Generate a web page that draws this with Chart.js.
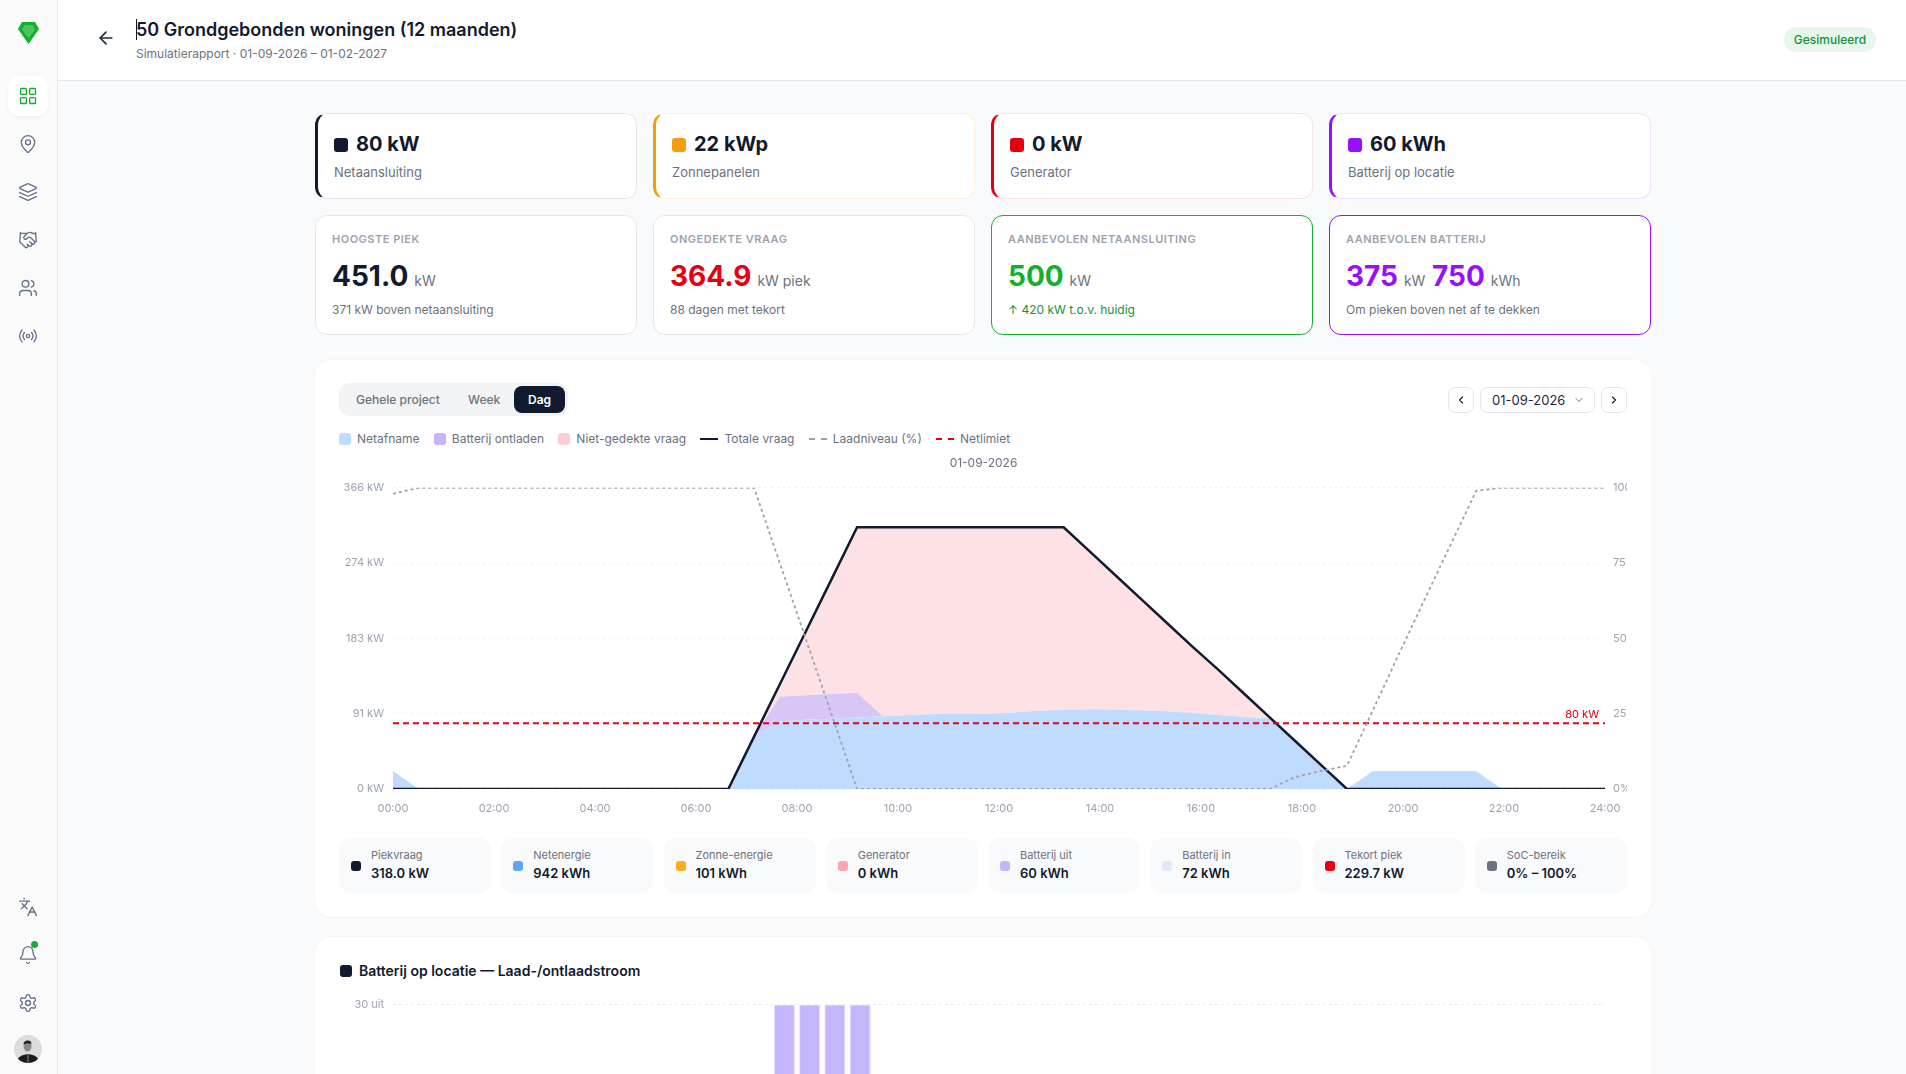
<!DOCTYPE html>
<html lang="nl">
<head>
<meta charset="utf-8">
<title>Simulatierapport</title>
<script src="https://cdn.jsdelivr.net/npm/chart.js@4"></script>
<style>
  * { box-sizing: border-box; margin: 0; padding: 0; }
  html, body { width: 1906px; height: 1074px; overflow: hidden; background: #f9fafb; font-family: Inter, "Noto Sans", sans-serif; color: #111a2e; }
  .abs, .abs > * { position: absolute; }
  #side { left: 0; top: 0; width: 58px; height: 1074px; background: #fafafa; border-right: 1px solid #e5e7eb; }
  #side svg.ic { left: 18px; width: 20px; height: 20px; fill: none; stroke: #64708a; stroke-width: 1.6; stroke-linecap: round; stroke-linejoin: round; }
  #tile { left: 8px; top: 76px; width: 40px; height: 40px; background: #fff; border-radius: 10px; box-shadow: 0 1px 3px rgba(17,26,46,.06); }
  #head { left: 58px; top: 0; width: 1848px; height: 81px; background: #fff; border-bottom: 1px solid #e5e7eb; }
  .t { position: absolute; white-space: nowrap; line-height: 1; }
  .card { position: absolute; width: 322px; background: #fff; border: 1px solid #e5e7eb; border-radius: 12px; }
  .top { top: 113px; height: 86px; }
  .kpi { top: 215px; height: 120px; }
  .sq { position: absolute; width: 14px; height: 14px; border-radius: 3px; left: 16px; top: 24px; }
  .big { left: 38px; top: 20px; font-size: 20px; font-weight: 700; line-height: 20px; }
  .sub { left: 16px; top: 52px; font-size: 13px; color: #6b7280; line-height: 13px; }
  .cap { left: 16px; top: 18px; font-size: 11px; font-weight: 600; letter-spacing: .5px; color: #9ca3af; line-height: 11px; }
  .val { left: 16px; top: 46px; font-size: 28px; font-weight: 700; line-height: 28px; }
  .val small { font-size: 14px; font-weight: 400; color: #6b7280; margin-left: 2px; }
  .note { left: 16px; top: 88px; font-size: 12px; color: #6b7280; line-height: 12px; }
  .panel { position: absolute; left: 315px; width: 1336px; background: #fff; border-radius: 16px; box-shadow: 0 0 0 1px #f5f6f8; }
  .btn { position: absolute; top: 387px; height: 26px; background: #fff; border: 1px solid #e5e7eb; border-radius: 7px; }
  .btn svg { position: absolute; top: 6px; width: 12px; height: 12px; fill: none; stroke-linecap: round; stroke-linejoin: round; }
  #legend { position: absolute; left: 339px; top: 432px; height: 14px; display: flex; gap: 14.3px; font-size: 12px; line-height: 14px; color: #6b7280; white-space: nowrap; }
  #legend span.item { display: flex; align-items: center; gap: 6px; }
  #legend i { display: block; width: 12px; height: 12px; border-radius: 3px; }
  #legend i.ln { width: 18px; height: 0; border-radius: 0; border-top: 2px solid; }
  .chip { position: absolute; top: 838px; width: 152px; height: 55px; background: #f9fafb; border-radius: 12px; }
  .chip i { position: absolute; left: 12px; top: 23px; width: 10px; height: 10px; border-radius: 3px; }
  .chip b { position: absolute; left: 32px; top: 12px; font-size: 11px; font-weight: 400; color: #6b7280; line-height: 11px; white-space: nowrap; }
  .chip em { position: absolute; left: 32px; top: 29px; font-size: 13px; font-style: normal; font-weight: 600; line-height: 13px; white-space: nowrap; }
  canvas { position: absolute; display: block; }
</style>
</head>
<body>
<div id="side" class="abs">
  <svg viewBox="0 0 21 22" style="left:18px;top:22px;width:21px;height:22px"><path d="M4 0h13l4 7-10.500 15L0 7z" fill="#12b02c"/><path d="M6.500 3h8l2.500 4.500-6.500 9-6.500-9z" fill="#4cc45f"/></svg>
  <div id="tile"></div>
  <svg class="ic" viewBox="0 0 24 24" style="top:86px;stroke:#12b02c"><rect x="3" y="3" width="7" height="7" rx="1"/><rect x="14" y="3" width="7" height="7" rx="1"/><rect x="14" y="14" width="7" height="7" rx="1"/><rect x="3" y="14" width="7" height="7" rx="1"/></svg>
  <svg class="ic" viewBox="0 0 24 24" style="top:134px"><path d="M20 10c0 4.993-5.539 10.193-7.399 11.799a1 1 0 0 1-1.202 0C9.539 20.193 4 14.993 4 10a8 8 0 0 1 16 0"/><circle cx="12" cy="10" r="3"/></svg>
  <svg class="ic" viewBox="0 0 24 24" style="top:182px"><path d="m12.830 2.180a2 2 0 0 0-1.660 0L2.600 6.080a1 1 0 0 0 0 1.830l8.580 3.910a2 2 0 0 0 1.660 0l8.580-3.900a1 1 0 0 0 0-1.830Z"/><path d="m22 17.650-9.170 4.160a2 2 0 0 1-1.660 0L2 17.650"/><path d="m22 12.650-9.170 4.160a2 2 0 0 1-1.660 0L2 12.650"/></svg>
  <svg class="ic" viewBox="0 0 24 24" style="top:230px"><path d="m11 17 2 2a1 1 0 1 0 3-3"/><path d="m14 14 2.500 2.500a1 1 0 1 0 3-3l-3.880-3.880a3 3 0 0 0-4.240 0l-.88.88a1 1 0 1 1-3-3l2.810-2.810a5.790 5.790 0 0 1 7.060-.87l.47.28a2 2 0 0 0 1.420.25L21 4"/><path d="m21 3 1 11h-2"/><path d="M3 3 2 14l6.500 6.500a1 1 0 1 0 3-3"/><path d="M3 4h8"/></svg>
  <svg class="ic" viewBox="0 0 24 24" style="top:278px"><path d="M16 21v-2a4 4 0 0 0-4-4H6a4 4 0 0 0-4 4v2"/><circle cx="9" cy="7" r="4"/><path d="M22 21v-2a4 4 0 0 0-3-3.870"/><path d="M16 3.130a4 4 0 0 1 0 7.750"/></svg>
  <svg class="ic" viewBox="0 0 24 24" style="top:326px"><path d="M4.900 19.100C1 15.200 1 8.800 4.900 4.900"/><path d="M7.800 16.200c-2.300-2.300-2.300-6.100 0-8.500"/><circle cx="12" cy="12" r="2"/><path d="M16.200 7.800c2.300 2.300 2.300 6.100 0 8.500"/><path d="M19.100 4.900C23 8.800 23 15.100 19.100 19"/></svg>
  <svg class="ic" viewBox="0 0 24 24" style="top:897px"><path d="m5 8 6 6"/><path d="m4 14 6-6 2-3"/><path d="M2 5h12"/><path d="M7 2h1"/><path d="m22 22-5-10-5 10"/><path d="M14 18h6"/></svg>
  <svg class="ic" viewBox="0 0 24 24" style="top:945px"><path d="M10.268 21a2 2 0 0 0 3.464 0"/><path d="M3.262 15.326A1 1 0 0 0 4 17h16a1 1 0 0 0 .74-1.673C19.410 13.956 18 12.499 18 8A6 6 0 0 0 6 8c0 4.499-1.411 5.956-2.738 7.326"/></svg>
  <div style="left:31px;top:941px;width:7px;height:7px;border-radius:50%;background:#12b02c"></div>
  <svg class="ic" viewBox="0 0 24 24" style="top:993px"><path d="M12.220 2h-.44a2 2 0 0 0-2 2v.18a2 2 0 0 1-1 1.730l-.43.25a2 2 0 0 1-2 0l-.15-.08a2 2 0 0 0-2.730.73l-.22.38a2 2 0 0 0 .73 2.730l.15.1a2 2 0 0 1 1 1.720v.51a2 2 0 0 1-1 1.740l-.15.09a2 2 0 0 0-.73 2.730l.22.38a2 2 0 0 0 2.730.73l.15-.08a2 2 0 0 1 2 0l.43.25a2 2 0 0 1 1 1.730V20a2 2 0 0 0 2 2h.44a2 2 0 0 0 2-2v-.18a2 2 0 0 1 1-1.730l.43-.25a2 2 0 0 1 2 0l.15.08a2 2 0 0 0 2.730-.73l.22-.39a2 2 0 0 0-.73-2.730l-.15-.08a2 2 0 0 1-1-1.740v-.5a2 2 0 0 1 1-1.740l.15-.09a2 2 0 0 0 .73-2.730l-.22-.38a2 2 0 0 0-2.730-.73l-.15.08a2 2 0 0 1-2 0l-.43-.25a2 2 0 0 1-1-1.730V4a2 2 0 0 0-2-2z"/><circle cx="12" cy="12" r="3"/></svg>
  <svg viewBox="0 0 28 28" style="left:14px;top:1035px;width:28px;height:28px"><defs><clipPath id="av"><circle cx="14" cy="14" r="14"/></clipPath></defs><g clip-path="url(#av)"><rect width="28" height="28" fill="#dcdcdc"/><path d="M3 28c0-6 4-8 11-9 7 1 11 3 11 9z" fill="#1c1c1c"/><rect x="13" y="19" width="2" height="9" fill="#555"/><ellipse cx="13.500" cy="11" rx="4" ry="5.500" fill="#8a8a8a"/><path d="M9.500 9c0-4 7-5 8-1l-1 1c-2-1-4-1-5 0z" fill="#222"/></g></svg>
</div>

<div id="head" class="abs"></div>
<svg viewBox="0 0 24 24" style="position:absolute;left:96px;top:28px;width:20px;height:20px;fill:none;stroke:#1f2937;stroke-width:2;stroke-linecap:round;stroke-linejoin:round"><path d="m12 19-7-7 7-7"/><path d="M19 12H5"/></svg>
<div class="t" style="left:136px;top:19px;width:1px;height:21px;background:#111a2e"></div>
<div class="t" style="left:136px;top:20px;font-size:18px;font-weight:600;line-height:20px">50 Grondgebonden woningen (12 maanden)</div>
<div class="t" style="left:136px;top:48px;font-size:12px;color:#6b7280;line-height:12px">Simulatierapport · 01-09-2026 – 01-02-2027</div>
<div class="t" style="left:1784px;top:27px;width:92px;height:25px;background:#e8f7ec;border-radius:13px;text-align:center;font-size:12px;font-weight:500;color:#15923a;line-height:25px">Gesimuleerd</div>

<div class="card top" style="left:315px;border-left:3px solid #111a2e"><div class="sq" style="background:#111a2e"></div><div class="t big">80 kW</div><div class="t sub">Netaansluiting</div></div>
<div class="card top" style="left:653px;border-color:#fef1da;border-left:3px solid #f59e0b"><div class="sq" style="background:#f59e0b"></div><div class="t big">22 kWp</div><div class="t sub">Zonnepanelen</div></div>
<div class="card top" style="left:991px;border-color:#fde3e3;border-left:3px solid #e6000f"><div class="sq" style="background:#e6000f"></div><div class="t big">0 kW</div><div class="t sub">Generator</div></div>
<div class="card top" style="left:1329px;border-color:#f0e2ff;border-left:3px solid #9810fa"><div class="sq" style="background:#9810fa"></div><div class="t big">60 kWh</div><div class="t sub">Batterij op locatie</div></div>

<div class="card kpi" style="left:315px"><div class="t cap">HOOGSTE PIEK</div><div class="t val">451.0<small> kW</small></div><div class="t note">371 kW boven netaansluiting</div></div>
<div class="card kpi" style="left:653px"><div class="t cap">ONGEDEKTE VRAAG</div><div class="t val" style="color:#e6000f">364.9<small> kW piek</small></div><div class="t note">88 dagen met tekort</div></div>
<div class="card kpi" style="left:991px;border-color:#12b02c"><div class="t cap">AANBEVOLEN NETAANSLUITING</div><div class="t val" style="color:#12b02c">500<small> kW</small></div><div class="t note" style="color:#15923a">↑ 420 kW t.o.v. huidig</div></div>
<div class="card kpi" style="left:1329px;border-color:#9810fa"><div class="t cap">AANBEVOLEN BATTERIJ</div><div class="t val" style="color:#9810fa">375<small> kW</small> 750<small> kWh</small></div><div class="t note">Om pieken boven net af te dekken</div></div>

<div class="panel" style="top:360px;height:557px"></div>
<div class="t" style="left:339px;top:383px;width:229px;height:33px;background:#f3f4f6;border-radius:10px"></div>
<div class="t" style="left:514px;top:386px;width:51px;height:27px;background:#111a2e;border-radius:8px"></div>
<div class="t" style="left:356px;top:393px;font-size:12px;font-weight:500;color:#6b7280;line-height:13px">Gehele project</div>
<div class="t" style="left:468px;top:393px;font-size:12px;font-weight:500;color:#6b7280;line-height:13px">Week</div>
<div class="t" style="left:528px;top:393px;font-size:12px;font-weight:600;color:#fff;line-height:13px">Dag</div>

<div class="btn" style="left:1448px;width:26px"><svg viewBox="0 0 24 24" style="left:6px;stroke:#1f2937;stroke-width:2.500"><path d="m15 18-6-6 6-6"/></svg></div>
<div class="btn" style="left:1480px;width:115px"><div class="t" style="left:11px;top:6px;font-size:13px;line-height:13px;color:#1f2937">01-09-2026</div><svg viewBox="0 0 24 24" style="left:92px;stroke:#6b7280;stroke-width:2"><path d="m6 9 6 6 6-6"/></svg></div>
<div class="btn" style="left:1601px;width:26px"><svg viewBox="0 0 24 24" style="left:6px;stroke:#1f2937;stroke-width:2.500"><path d="m9 18 6-6-6-6"/></svg></div>

<div id="legend"></div>
<canvas id="energyChart" width="1287" height="368" style="left:340px;top:452px;width:1287px;height:368px"></canvas>
<div id="chips"></div>

<div class="panel" style="top:937px;height:400px"></div>
<div class="t" style="left:339.500px;top:965px;width:12px;height:12px;background:#111a2e;border-radius:3px"></div>
<div class="t" style="left:359px;top:964px;font-size:14px;font-weight:600;line-height:14px">Batterij op locatie — Laad-/ontlaadstroom</div>
<canvas id="flowChart" width="1287" height="266" style="left:340px;top:989px;width:1287px;height:266px"></canvas>

<script>
// half hour samples, axis runs a little short so they land at 0.51h steps
const hours = [0, 0.51, 1.02, 1.53, 2.04, 2.55, 3.06, 3.57, 4.09, 4.6, 5.11, 5.62, 6.13, 6.64, 7.15, 7.66,
  8.17, 8.68, 9.19, 9.7, 10.21, 10.72, 11.23, 11.74, 12.26, 12.77, 13.28, 13.79, 14.3, 14.81, 15.32, 15.83,
  16.34, 16.85, 17.36, 17.87, 18.38, 18.89, 19.4, 19.91, 20.43, 20.94, 21.45, 21.96, 22.47, 22.98, 23.49, 24];
const gridPower = [22, 0, 0, 0, 0, 0, 0, 0, 0, 0, 0, 0, 0, 0, 64, 82,
  84, 85.5, 87, 88.5, 90, 91, 91.5, 91, 93, 95, 96, 96.8, 96.5, 95.5, 94.5, 92.5,
  90, 87.5, 86, 58, 29, 0, 21.6, 21.6, 21.6, 21.6, 21.6, 0, 0, 0, 0, 0];
const batteryPower = [0, 0, 0, 0, 0, 0, 0, 0, 0, 0, 0, 0, 0, 0, 0, 30,
  30, 30, 30, 0, 0, 0, 0, 0, 0, 0, 0, 0, 0, 0, 0, 0,
  0, 0, 0, 0, 0, 0, 0, 0, 0, 0, 0, 0, 0, 0, 0, 0];
const unmetDemand = [0, 0, 0, 0, 0, 0, 0, 0, 0, 0, 0, 0, 0, 0, 0, 15,
  77, 139, 201, 229.5, 228, 227, 226.5, 227, 225, 223, 222, 192, 163.5, 135.5, 107.5, 80.5,
  55, 28.5, 1, 0, 0, 0, 0, 0, 0, 0, 0, 0, 0, 0, 0, 0];
const totalDemand = [0, 0, 0, 0, 0, 0, 0, 0, 0, 0, 0, 0, 0, 0, 63.6, 127.2,
  190.8, 254.4, 318, 318, 318, 318, 318, 318, 318, 318, 318, 289, 260, 231, 202, 173,
  145, 116, 87, 58, 29, 0, 0, 0, 0, 0, 0, 0, 0, 0, 0, 0];
const socPercent = [98, 100, 100, 100, 100, 100, 100, 100, 100, 100, 100, 100, 100, 100, 100, 75,
  50, 25, 0, 0, 0, 0, 0, 0, 0, 0, 0, 0, 0, 0, 0, 0,
  0, 0, 0, 4, 6, 7.7, 26, 44.5, 63, 81, 99, 100, 100, 100, 100, 100];
const netLimit = 80;
const kwTicks = [0, 91.5, 183, 274.5, 366];
const socTicks = [0, 25, 50, 75, 100];
const flowTicks = [-30, 0, 30];
// discharge is positive, charge negative (charge part is below the fold)
const batteryFlow = [0, 0, 0, 0, 0, 0, 0, 0, 0, 0, 0, 0, 0, 0, 0, 30,
  30, 30, 30, 0, 0, 0, 0, 0, 0, 0, 0, 0, 0, 0, 0, 0,
  0, 0, 0, 0, 0, 0, -21.6, -21.6, -21.6, -21.6, -21.6, 0, 0, 0, 0, 0];
const flowLabels = ["00:00", "00:30", "01:00", "01:30", "02:00", "02:30", "03:00", "03:30", "04:00", "04:30", "05:00", "05:30",
  "06:00", "06:30", "07:00", "07:30", "08:00", "08:30", "09:00", "09:30", "10:00", "10:30", "11:00", "11:30",
  "12:00", "12:30", "13:00", "13:30", "14:00", "14:30", "15:00", "15:30", "16:00", "16:30", "17:00", "17:30",
  "18:00", "18:30", "19:00", "19:30", "20:00", "20:30", "21:00", "21:30", "22:00", "22:30", "23:00", "23:30"];

const chipNames = ["Piekvraag", "Netenergie", "Zonne-energie", "Generator", "Batterij uit", "Batterij in", "Tekort piek", "SoC-bereik"];
const chipValues = ["318.0 kW", "942 kWh", "101 kWh", "0 kWh", "60 kWh", "72 kWh", "229.7 kW", "0% – 100%"];
const chipColors = ["#111a2e", "#60a5fa", "#fbad1c", "#fda4af", "#c4b5fd", "#e0e7ff", "#e6000f", "#6b7280"];

const INK = "#111a2e";
const RED = "#e6000f";
const MUTED = "#9ca3af";
const tickFont = { family: "Inter", size: 11 };

Chart.defaults.font.family = "Inter";
Chart.defaults.animation = false;

function toPoints(values) {
  return hours.map((h, i) => ({ x: h, y: values[i] }));
}

var chips = document.getElementById("chips");
chipNames.forEach((name, i) => {
  var el = document.createElement("div");
  el.className = "chip";
  el.style.left = 339 + i * 162.25 + "px";
  el.innerHTML = `<i style="background:${chipColors[i]}"></i><b>${name}</b><em>${chipValues[i]}</em>`;
  chips.appendChild(el);
});

// prints the limit value just above the red line
const limitLabel = {
  id: "limitLabel",
  afterDatasetsDraw(chart) {
    var ctx = chart.ctx;
    ctx.save();
    ctx.font = "11px Inter";
    ctx.fillStyle = RED;
    ctx.textAlign = "right";
    ctx.textBaseline = "middle";
    ctx.fillText(netLimit + " kW", chart.chartArea.right - 6, chart.scales.y.getPixelForValue(netLimit) - 8.5);
    ctx.restore();
  },
};

var chart = new Chart(document.getElementById("energyChart"), {
  type: "line",
  data: {
    datasets: [
      { label: "Netafname", data: toPoints(gridPower), yAxisID: "y", stack: "supply", fill: "origin", backgroundColor: "#bfdbfe", borderWidth: 0, order: 3 },
      { label: "Batterij ontladen", data: toPoints(batteryPower), yAxisID: "y", stack: "supply", fill: "-1", backgroundColor: "#d8c6f6", borderWidth: 0, order: 3 },
      { label: "Niet-gedekte vraag", data: toPoints(unmetDemand), yAxisID: "y", stack: "supply", fill: "-1", backgroundColor: "#fee1e4", borderWidth: 0, order: 3 },
      { label: "Totale vraag", data: toPoints(totalDemand), yAxisID: "y", stack: "demand", borderColor: INK, borderWidth: 2.5, order: 1 },
      { label: "Laadniveau (%)", data: toPoints(socPercent), yAxisID: "y1", borderColor: MUTED, borderWidth: 1.8, borderDash: [3, 3], order: 0 },
      { label: "Netlimiet", data: [{ x: 0, y: netLimit }, { x: 24, y: netLimit }], yAxisID: "y", stack: "limit", borderColor: RED, borderWidth: 2, borderDash: [6, 4], order: 0 },
    ],
  },
  options: {
    responsive: false,
    maintainAspectRatio: false,
    layout: { autoPadding: false },
    elements: { point: { radius: 0 }, line: { tension: 0 } },
    plugins: {
      legend: { display: false },
      tooltip: { enabled: false },
      title: {
        display: true,
        text: "01-09-2026",
        color: "#6b7280",
        font: { family: "Inter", size: 12, weight: "400" },
        padding: { top: 4, bottom: 17.4 },
      },
    },
    scales: {
      x: {
        type: "linear",
        min: 0,
        max: 24,
        // tick padding also widens the plot margin, so the gap comes from tickLength
        grid: { display: false, drawTicks: true, tickLength: 10.5 },
        border: { display: false },
        afterFit: (scale) => { scale.height = 31; },
        ticks: {
          stepSize: 2,
          padding: 3,
          maxRotation: 0,
          color: MUTED,
          font: tickFont,
          callback: (v) => String(v).padStart(2, "0") + ":00",
        },
      },
      y: {
        stacked: true,
        min: 0,
        max: 366,
        border: { display: false, dash: [2, 4] },
        grid: { color: "#eceef1", drawTicks: false },
        afterFit: (scale) => { scale.width = 53; },
        afterBuildTicks: (scale) => { scale.ticks = kwTicks.map((v) => ({ value: v })); },
        ticks: {
          padding: 9,
          color: MUTED,
          font: tickFont,
          callback: (v) => Math.floor(v) + " kW",
        },
      },
      y1: {
        position: "right",
        min: 0,
        max: 100,
        border: { display: false },
        grid: { display: false, drawTicks: false },
        afterFit: (scale) => { scale.width = 22; },
        afterBuildTicks: (scale) => { scale.ticks = socTicks.map((v) => ({ value: v })); },
        ticks: {
          padding: 8,
          color: MUTED,
          font: tickFont,
          callback: (v) => v + "%",
        },
      },
    },
  },
  plugins: [limitLabel],
});

// legend sits outside the canvas, above the date title
var legend = document.getElementById("legend");
chart.data.datasets.forEach((ds) => {
  var item = document.createElement("span");
  item.className = "item";
  var mark = document.createElement("i");
  if (ds.fill) {
    mark.style.background = { Netafname: "#bfdbfe", "Batterij ontladen": "#c4b5fd" }[ds.label] || "#fecdd3";
  } else {
    mark.className = "ln";
    mark.style.borderColor = ds.borderColor;
    if (ds.borderDash) {
      mark.style.borderTop = "none";
      mark.style.height = "2px";
      mark.style.background = `repeating-linear-gradient(90deg, ${ds.borderColor} 0 6px, transparent 6px 12px)`;
    }
  }
  item.appendChild(mark);
  item.appendChild(document.createTextNode(ds.label));
  legend.appendChild(item);
});

new Chart(document.getElementById("flowChart"), {
  type: "bar",
  data: {
    labels: flowLabels,
    datasets: [
      { label: "Laad-/ontlaadstroom", data: batteryFlow, backgroundColor: "#c4b5fd", borderColor: "#e2dcfc", borderWidth: 1, barPercentage: 0.83, categoryPercentage: 1 },
    ],
  },
  options: {
    responsive: false,
    maintainAspectRatio: false,
    layout: { autoPadding: false },
    plugins: { legend: { display: false }, tooltip: { enabled: false } },
    scales: {
      x: {
        grid: { display: false },
        border: { display: false },
        ticks: { autoSkip: true, maxTicksLimit: 13, maxRotation: 0, color: MUTED, font: tickFont },
      },
      y: {
        min: -30,
        max: 30,
        border: { display: false, dash: [3, 3] },
        grid: { color: "#eceef1", drawTicks: false },
        afterFit: (scale) => { scale.width = 53; },
        afterBuildTicks: (scale) => { scale.ticks = flowTicks.map((v) => ({ value: v })); },
        ticks: {
          padding: 9,
          color: MUTED,
          font: tickFont,
          callback: (v) => (v > 0 ? v + " uit" : v < 0 ? -v + " in" : "0"),
        },
      },
      yRight: {
        position: "right",
        display: true,
        min: 0,
        max: 1,
        grid: { display: false },
        border: { display: false },
        ticks: { display: false },
        afterFit: (scale) => { scale.width = 22; },
      },
    },
  },
});
</script>
</body>
</html>
